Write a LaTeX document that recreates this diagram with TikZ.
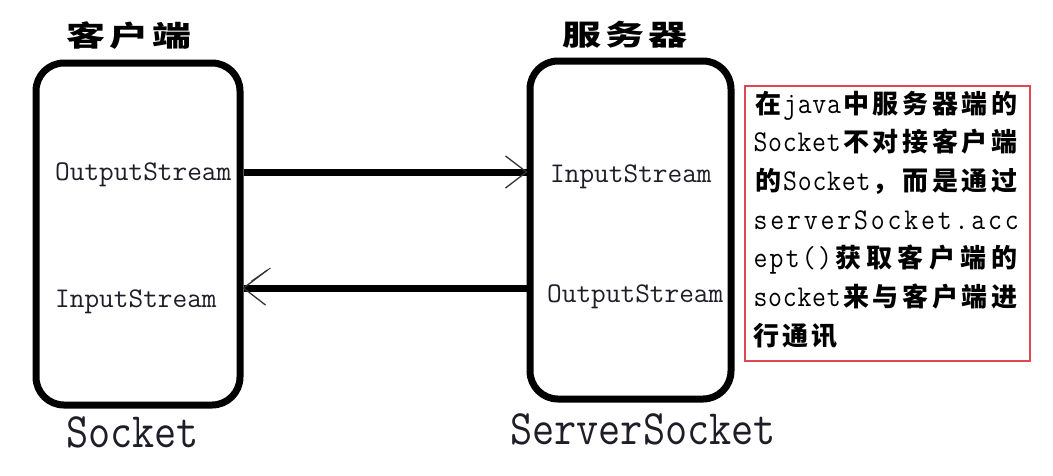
\documentclass[tikz,border=0pt]{standalone}
\usepackage{fontspec}
\usepackage{graphicx}
\usetikzlibrary{calc}
\newfontfamily\cjk{Noto Sans CJK SC}
\definecolor{noteRed}{RGB}{222,72,84}
\definecolor{ink}{RGB}{30,30,40}
\newcommand\cjknote{\cjk\bfseries\fontsize{26pt}{26pt}\selectfont}
\newcommand\cjkhead{\cjk\bfseries\fontsize{30pt}{30pt}\selectfont}
\ExplSyntaxOn
\NewDocumentCommand\jline{mm}{
  \hbox_to_wd:nn {#1} {
    \tl_map_inline:nn {#2} {
      \int_compare:nNnTF {`##1} > {255}
        { \makebox[29.6pt]{\cjknote ##1} }
        { \makebox[14.6pt]{\scalebox{1}[1.12]{##1}} }
      \hfil
    }
    \unskip
  }
}
\NewDocumentCommand\nline{m}{
  \hbox:n { \tl_map_inline:nn {#1} { \makebox[29pt][l]{\cjknote ##1} } }
}
\NewDocumentCommand\headline{m}{
  \scalebox{1.3}[0.95]{ \tl_map_inline:nn {#1} { \makebox[33pt]{##1} } }
}
\ExplSyntaxOff
\begin{document}
\begin{tikzpicture}[x=1pt,y=-1pt,
  sockbox/.style={draw=black, line width=7pt, rounded corners=28pt, inner sep=0pt},
  flow/.style={line width=7pt, draw=black},
  barb/.style={line width=1.3pt, draw=black!80},
  streamlbl/.style={anchor=base west, inner sep=0pt, text=ink, font=\ttfamily\fontsize{28.5pt}{28.5pt}\selectfont},
  biglbl/.style={anchor=base west, inner sep=0pt, text=ink, font=\ttfamily\fontsize{43pt}{43pt}\selectfont},
  headlbl/.style={inner sep=0pt, font=\cjkhead},
  noteline/.style={anchor=base west, inner sep=0pt, font=\ttfamily\fontsize{27pt}{27pt}\selectfont}]
\useasboundingbox[fill=white] (0,0) rectangle (1053,475);

% boxes
\node[sockbox, minimum width=204pt, minimum height=342pt] (lbox) at (138,234) {};
\node[sockbox, minimum width=201pt, minimum height=338pt] (rbox) at (630.5,230) {};

% headings
\node[headlbl] (lhead) at (129,35.5) {\headline{客户端}};
\node[headlbl] (rhead) at (625,35) {\headline{服务器}};

% stream labels
\node[streamlbl] (lout) at (55,180) {OutputStream};
\node[streamlbl] (lin) at (55,307) {InputStream};
\node[streamlbl] (rin) at (550,182) {InputStream};
\node[streamlbl] (rout) at (547,302) {OutputStream};

% bottom names
\node[biglbl] (lname) at (66,447) {\scalebox{1}[1.15]{Socket}};
\node[biglbl] (rname) at (510,444) {\scalebox{1}[1.15]{ServerSocket}};

% connectors
\coordinate (yTop) at (0,172);
\coordinate (yBot) at (0,288);
\draw[flow] (lbox.east |- yTop) -- (rbox.west |- yTop);
\draw[barb] ($(rbox.west |- yTop)+(-21,-16)$) -- (rbox.west |- yTop) -- ($(rbox.west |- yTop)+(-21,16)$);
\draw[flow] (rbox.west |- yBot) -- (lbox.east |- yBot);
\draw[barb] ($(lbox.east |- yBot)+(24,-18)$) -- (lbox.east |- yBot) -- ($(lbox.east |- yBot)+(22,17)$);
\draw[barb, line width=0.9pt] ($(lbox.east |- yBot)+(27,-20)$) -- ($(lbox.east |- yBot)+(8,-7)$);

% note box
\node[draw=noteRed, line width=1.5pt, minimum width=285pt, minimum height=275pt, anchor=north west, inner sep=0pt] (note) at (744,85) {};
\node[noteline] (n1) at (753,113) {\jline{266pt}{在java中服务器端的}};
\node[noteline] (n2) at (753,151.7) {\jline{266pt}{Socket不对接客户端}};
\node[noteline] (n3) at (753,190.4) {\jline{266pt}{的Socket，而是通过}};
\node[noteline] (n4) at (753,229.1) {\jline{266pt}{serverSocket.acc}};
\node[noteline] (n5) at (753,267.8) {\jline{266pt}{ept()获取客户端的}};
\node[noteline] (n6) at (753,306.5) {\jline{266pt}{socket来与客户端进}};
\node[noteline] (n7) at (753,345.2) {\nline{行通讯}};
\end{tikzpicture}
\end{document}
